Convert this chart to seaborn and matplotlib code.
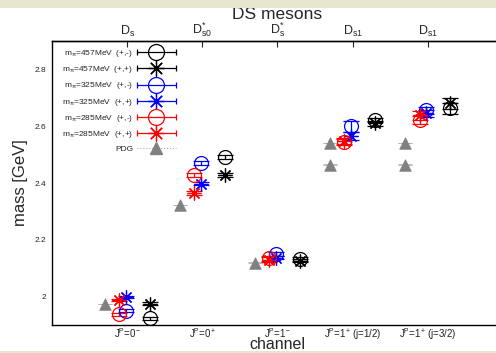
import numpy as np
import pandas as pd
import matplotlib
matplotlib.use("Agg")
import matplotlib.pyplot as plt
import seaborn as sns
from matplotlib.container import ErrorbarContainer
from matplotlib.legend_handler import HandlerErrorbar
from matplotlib.ticker import FormatStrFormatter
from matplotlib.patches import Rectangle

# ---------------- data ----------------
channel_labels = [r"J$^{P}$=0$^{-}$", r"J$^{P}$=0$^{+}$", r"J$^{P}$=1$^{-}$",
                  r"J$^{P}$=1$^{+}$ (j=1/2)", r"J$^{P}$=1$^{+}$ (j=3/2)"]
state_labels = [r"D$_{s}$", r"D$^{*}_{s0}$", r"D$^{*}_{s}$", r"D$_{s1}$", r"D$_{s1}$"]
channel_pos = [1, 2, 3, 4, 5]

m457_pm = [1.923, 2.491, 2.132, 2.622, 2.663]
m457_pm_err = [0.004, 0.008, 0.006, 0.008, 0.020]
m457_pp = [1.975, 2.428, 2.127, 2.610, 2.681]
m457_pp_err = [0.006, 0.008, 0.006, 0.008, 0.020]
m325_pm = [1.951, 2.470, 2.150, 2.600, 2.656]
m325_pm_err = [0.005, 0.006, 0.008, 0.020, 0.012]
m325_pp = [1.998, 2.398, 2.137, 2.565, 2.645]
m325_pp_err = [0.004, 0.006, 0.006, 0.015, 0.012]
m285_pm = [1.937, 2.428, 2.135, 2.545, 2.621]
m285_pm_err = [0.005, 0.008, 0.008, 0.010, 0.015]
m285_pp = [1.988, 2.364, 2.130, 2.548, 2.638]
m285_pp_err = [0.005, 0.008, 0.008, 0.010, 0.015]

pdg_channel = [1, 2, 3, 4, 4, 5, 5]
pdg_mass = [1.975, 2.323, 2.120, 2.540, 2.465, 2.540, 2.465]

series_labels = [r"m$_{π}$=457MeV  (+,-)", r"m$_{π}$=457MeV  (+,+)",
                 r"m$_{π}$=325MeV  (+,-)", r"m$_{π}$=325MeV  (+,+)",
                 r"m$_{π}$=285MeV  (+,-)", r"m$_{π}$=285MeV  (+,+)"]
pdg_label = "PDG"

# ---------------- style ----------------
sns.set_theme(style="white")
plt.rcParams["font.family"] = ["Liberation Sans", "DejaVu Sans"]
plt.rcParams["mathtext.fontset"] = "custom"
plt.rcParams["mathtext.rm"] = "Liberation Sans"
plt.rcParams["mathtext.it"] = "Liberation Sans"
plt.rcParams["mathtext.default"] = "rm"

fig = plt.figure(figsize=(4.96, 3.53), dpi=100)
fig.patch.set_facecolor("white")
ax = fig.add_axes([52 / 496, 28 / 353, 451 / 496, 284 / 353])
ax.set_facecolor("white")

asterisk = (8, 2, 0)
series = [
    (m457_pm, m457_pm_err, "black", "o", 0.30),
    (m457_pp, m457_pp_err, "black", asterisk, 0.30),
    (m325_pm, m325_pm_err, "#0000ff", "o", -0.02),
    (m325_pp, m325_pp_err, "#0000ff", asterisk, -0.02),
    (m285_pm, m285_pm_err, "#ff0000", "o", -0.11),
    (m285_pp, m285_pp_err, "#ff0000", asterisk, -0.11),
]

handles = []
for (vals, errs, col, mk, off), lab in zip(series, series_labels):
    x = np.array(channel_pos) + off
    ax.errorbar(x, vals, yerr=errs, fmt="none", ecolor=col, elinewidth=0.9,
                capsize=5.5, capthick=0.9, zorder=3)
    ax.plot(x, vals, linestyle="none", marker=mk, markersize=10,
            markerfacecolor="none", markeredgecolor=col, markeredgewidth=0.9,
            zorder=4)
    h = ax.errorbar([np.nan], [np.nan], xerr=[1.0], fmt="", marker=mk,
                    linestyle="none", color=col,
                    markersize=11.5, markerfacecolor="none", markeredgecolor=col,
                    markeredgewidth=0.9, elinewidth=0.9, capsize=2.5,
                    capthick=0.9, label=lab)
    handles.append(h)

# PDG
pdg_df = pd.DataFrame({"x": np.array(pdg_channel) - 0.30, "mass": pdg_mass})
ax.errorbar(pdg_df["x"], pdg_df["mass"], yerr=0.0005, fmt="none",
            ecolor="#b0b0b0", elinewidth=0.6, capsize=5, capthick=0.6, zorder=2)
sns.scatterplot(data=pdg_df, x="x", y="mass", marker="^", s=70, color="#808080",
                edgecolor="#808080", linewidth=0.5, ax=ax, zorder=3, legend=False)
hp = ax.errorbar([np.nan], [np.nan], xerr=[1.0], fmt="", marker="^",
                 linestyle="none", color="#808080",
                 markersize=9, ecolor="#aaaaaa", elinewidth=0.8, capsize=0,
                 label=pdg_label)
hp[2][0].set_linestyle(":")
handles.append(hp)

ax.set_xlim(0, 6)
ax.set_ylim(1.9, 2.9)
ax.set_xticks(channel_pos)
ax.set_xticklabels(channel_labels)
ax.set_yticks([2.0, 2.2, 2.4, 2.6, 2.8])
ax.yaxis.set_major_formatter(FormatStrFormatter("%g"))
ax.tick_params(axis="x", direction="in", length=4, width=0.8, pad=0.8,
               labelsize=7, colors="black", labelcolor="#222222")
ax.tick_params(axis="y", direction="in", length=4, width=0.8, pad=4,
               labelsize=6, colors="black", labelcolor="#222222")
for side in ["left", "bottom", "top"]:
    ax.spines[side].set_color("black")
    ax.spines[side].set_linewidth(1.0)
ax.spines["right"].set_visible(False)

sec = ax.secondary_xaxis("top")
sec.set_xticks(channel_pos)
sec.set_xticklabels(state_labels)
sec.tick_params(direction="in", length=4, width=0.8, pad=1.5, labelsize=9)
sec.spines["top"].set_linewidth(1.0)

ax.set_xlabel("channel", fontsize=11.5)
ax.xaxis.set_label_coords(0.5, -0.042)
ax.set_ylabel("mass [GeV]", fontsize=12)
ax.yaxis.set_label_coords(-0.053, 0.5)
ax.set_title("DS mesons", fontsize=12.5, y=1.0775, pad=0, va="baseline")

ax.legend(handles=handles, loc="upper left", bbox_to_anchor=(0.022, 0.975),
          frameon=False, markerfirst=False, fontsize=6, handlelength=4.9,
          handletextpad=0.35, labelspacing=0.62, borderpad=0, borderaxespad=0,
          handler_map={ErrorbarContainer: HandlerErrorbar(xerr_size=2.3)})

# beige bands at top and bottom
fig.patches.append(Rectangle((0, 1 - 7.5 / 353), 1, 7.5 / 353, transform=fig.transFigure,
                             facecolor="#e7e6cf", edgecolor="none", zorder=10))
fig.patches.append(Rectangle((0, 0), 1, 2.5 / 353, transform=fig.transFigure,
                             facecolor="#e7e6cf", edgecolor="none", zorder=10))

fig.savefig("out.png", dpi=100)
